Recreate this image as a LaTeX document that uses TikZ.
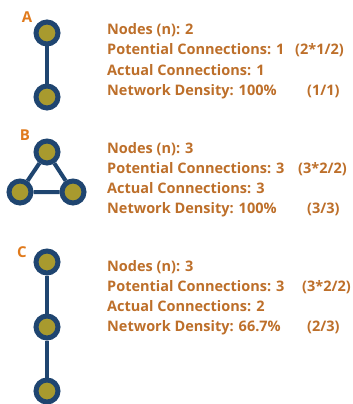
\documentclass[tikz,border=0pt]{standalone}
\usepackage{fontspec}
\setmainfont{Open Sans}
\usetikzlibrary{positioning}
\definecolor{netblue}{HTML}{1F4570}
\definecolor{netolive}{HTML}{A89A2E}
\definecolor{netbrown}{HTML}{BD6F2A}
\definecolor{netorange}{HTML}{E07A1C}
\tikzset{
  vertex/.style={circle, draw=netblue, fill=netolive, line width=5pt, minimum size=22pt, inner sep=0pt},
  tie/.style={draw=netblue, line width=4pt},
  tag/.style={font=\bfseries\fontsize{15}{15}\selectfont, text=netorange, inner sep=0pt},
  info/.style={anchor=base west, font=\bfseries\fontsize{14.5}{18}\selectfont, text=netbrown, inner sep=0pt},
}
\begin{document}
\begin{tikzpicture}[x=1pt, y=-1pt]
  \useasboundingbox (0,0) rectangle (353,404);
  % A: two nodes
  \node[tag] (tagA) at (27,17) {A};
  \node[vertex] (a1) at (47,33) {};
  \node[vertex] (a2) at (47,97) {};
  \draw[tie] (a1) -- (a2);
  \foreach \txt [count=\k] in {Nodes (n): 2, Potential Connections: 1, Actual Connections: 1, Network Density: 100\%}
    \node[info] (ta\k) at (107,{35+20*(\k-1)}) {\txt};
  \node[info] (pa2) at (295,55) {(2*1/2)};
  \node[info] (pa4) at (307,95) {(1/1)};
  % B: triangle
  \node[tag] (tagB) at (25,135) {B};
  \node[vertex] (b1) at (47,152) {};
  \node[vertex] (b2) at (20,192) {};
  \node[vertex] (b3) at (73,192) {};
  \draw[tie] (b1) -- (b2) (b2) -- (b3) (b3) -- (b1);
  \foreach \txt [count=\k] in {Nodes (n): 3, Potential Connections: 3, Actual Connections: 3, Network Density: 100\%}
    \node[info] (tb\k) at (107,{153+20*(\k-1)}) {\txt};
  \node[info] (pb2) at (298,173) {(3*2/2)};
  \node[info] (pb4) at (307,213) {(3/3)};
  % C: chain of three
  \node[tag] (tagC) at (22,252) {C};
  \node[vertex] (c1) at (47,262) {};
  \node[vertex] (c2) at (47,327) {};
  \node[vertex] (c3) at (47,391) {};
  \draw[tie] (c1) -- (c2) (c2) -- (c3);
  \foreach \txt [count=\k] in {Nodes (n): 3, Potential Connections: 3, Actual Connections: 2, Network Density: 66.7\%}
    \node[info] (tc\k) at (107,{271+20*(\k-1)}) {\txt};
  \node[info] (pc2) at (302,291) {(3*2/2)};
  \node[info] (pc4) at (307,331) {(2/3)};
\end{tikzpicture}
\end{document}
